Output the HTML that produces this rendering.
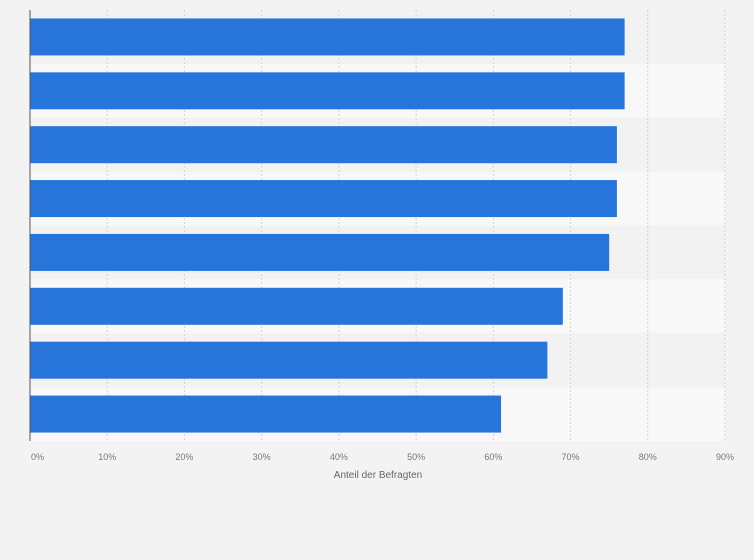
<!DOCTYPE html>
<html><head><meta charset="utf-8"><style>
html,body{margin:0;padding:0;background:#f3f3f3;}
svg{display:block;font-family:"Liberation Sans",sans-serif;}
</style></head><body>
<svg id="chart" width="754" height="560">
<rect x="0" y="0" width="754" height="560" fill="#f3f3f3"/>
<g id="bands"></g><g id="grid"></g><g id="bars"></g><g id="ticks"></g>
<line x1="30" y1="10" x2="30" y2="441" stroke="#555" stroke-width="1"/>
<text x="378" y="478" font-size="10" fill="#666" text-anchor="middle">Anteil der Befragten</text>
</svg>
<script>
const values = [77, 77, 76, 76, 75, 69, 67, 61];
const tickValues = [0,10,20,30,40,50,60,70,80,90];
const tickLabels = ["0%","10%","20%","30%","40%","50%","60%","70%","80%","90%"];
const NS="http://www.w3.org/2000/svg";
const x0=30,x1=725,xMax=90,yTop=10,yBot=441;
const xs=v=>x0+(x1-x0)*v/xMax;
const band=(yBot-yTop)/values.length;
const bandsG=document.getElementById('bands'),gridG=document.getElementById('grid'),barsG=document.getElementById('bars'),ticksG=document.getElementById('ticks');
function mk(t,a){const e=document.createElementNS(NS,t);for(const k in a)e.setAttribute(k,a[k]);return e;}
values.forEach((v,i)=>{
  const b=mk('rect',{x:x0,y:yTop+i*band,width:x1-x0,height:band,fill:i%2?'#f8f8f8':'#f2f2f2'});
  
  
  bandsG.appendChild(b);
});
tickValues.forEach((t,i)=>{
  const x=xs(t);
  if(t>0){
    const l=mk('line',{x1:x,y1:yTop,x2:x,y2:yBot,stroke:'#d4d4d4','stroke-dasharray':'2,2','stroke-width':1});
    
    
    gridG.appendChild(l);
  }
  const tx=mk('text',{x:t===0?x+1:x,y:460,'font-size':9,fill:'#777','text-anchor':t===0?'start':'middle'});
  tx.textContent=tickLabels[i];
  
  
  ticksG.appendChild(tx);
});
values.forEach((v,i)=>{
  const bh=37;
  const r=mk('rect',{x:x0,y:yTop+i*band+(band-bh)/2,width:xs(v)-x0,height:bh,fill:'#2775db'});
  
  
  barsG.appendChild(r);
});
</script>
</body></html>
